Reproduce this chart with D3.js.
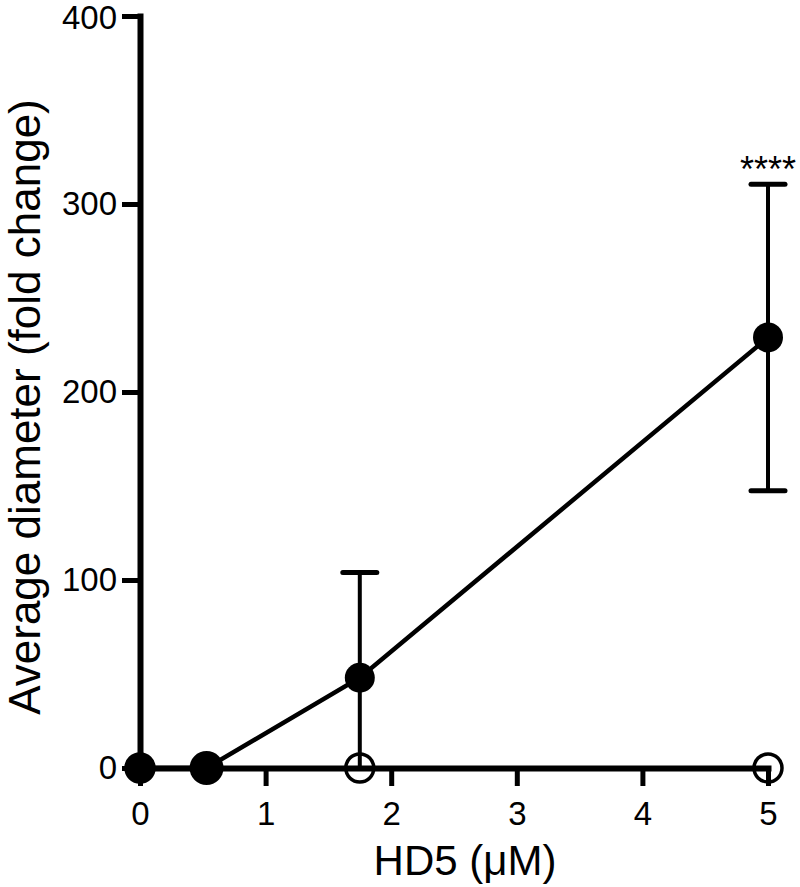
<!DOCTYPE html>
<html>
<head>
<meta charset="utf-8">
<script src="https://cdn.jsdelivr.net/npm/d3@7"></script>
<style>
  body { margin: 0; background: #fff; }
  text { font-family: "Liberation Sans", Arial, sans-serif; fill: #000; }
</style>
</head>
<body>
<svg id="drawing_region"></svg>
<script>
// HD5 concentrations (uM)
const doses = [0, 0.53, 1.75, 5];
// filled series: mean and SD
const filledMean = [0, 0, 48, 229];
const filledSD = [0, 0, 56, 81.5];
// open series
const openMean = [0, 0, 0, 0];
const xTicks = [0, 1, 2, 3, 4, 5];
const yTicks = [0, 100, 200, 300, 400];
const sigLabel = "****";

const config = {
    width: 800,
    height: 887,
    margin: {top: 16, right: 32, bottom: 119, left: 140}
};

const svg = d3.select("#drawing_region")
    .attr("width", config.width)
    .attr("height", config.height);

const inner_width = config.width - config.margin.left - config.margin.right;
const inner_height = config.height - config.margin.top - config.margin.bottom;

const chart = svg.append("g")
    .attr("transform", `translate(${config.margin.left}, ${config.margin.top})`);

const xscale = d3.scaleLinear().domain([0, 5]).range([0, inner_width]);
const yscale = d3.scaleLinear().domain([0, 400]).range([inner_height, 0]);

// axes
const xaxis = d3.axisBottom(xscale)
    .tickValues(xTicks)
    .tickFormat(d3.format("d"))
    .tickSize(18)
    .tickSizeOuter(0)
    .tickPadding(16);

const yaxis = d3.axisLeft(yscale)
    .tickValues(yTicks)
    .tickFormat(d3.format("d"))
    .tickSize(18)
    .tickSizeOuter(0)
    .tickPadding(5);

const xaxis_group = chart.append("g")
    .attr("transform", `translate(0, ${inner_height})`)
    .call(xaxis);

const yaxis_group = chart.append("g")
    .call(yaxis);

[xaxis_group, yaxis_group].forEach(g => {
    g.select(".domain").attr("stroke", "#000").attr("stroke-width", 6).attr("stroke-linecap", "square");
    g.selectAll(".tick line").attr("stroke", "#000").attr("stroke-width", 5);
    g.selectAll(".tick text")
        .style("font-family", '"Liberation Sans", Arial, sans-serif')
        .style("font-size", "33px")
        .attr("fill", "#000");
});
// keep the top label inside the picture
yaxis_group.selectAll(".tick text").filter(d => d === 400).attr("dy", "0.38em");

// open series (drawn underneath)
const openData = doses.map((d, i) => ({x: d, y: openMean[i]}));
const filledData = doses.map((d, i) => ({x: d, y: filledMean[i], sd: filledSD[i]}));

const line = d3.line()
    .x(d => xscale(d.x))
    .y(d => yscale(d.y));

chart.append("path")
    .datum(openData)
    .attr("d", line)
    .attr("fill", "none")
    .attr("stroke", "#000")
    .attr("stroke-width", 4);

// error bars (filled series)
const errs = chart.append("g");
filledData.filter(d => d.sd > 0).forEach(d => {
    const top = d.y + d.sd;
    const bot = Math.max(0, d.y - d.sd);
    const cx = xscale(d.x);
    errs.append("line")
        .attr("x1", cx).attr("x2", cx)
        .attr("y1", yscale(top)).attr("y2", yscale(bot))
        .attr("stroke", "#000").attr("stroke-width", 4);
    errs.append("line")
        .attr("x1", cx - 17).attr("x2", cx + 17)
        .attr("y1", yscale(top)).attr("y2", yscale(top))
        .attr("stroke", "#000").attr("stroke-width", 5).attr("stroke-linecap", "round");
    if (d.y - d.sd > 0) {
        errs.append("line")
            .attr("x1", cx - 17).attr("x2", cx + 17)
            .attr("y1", yscale(bot)).attr("y2", yscale(bot))
            .attr("stroke", "#000").attr("stroke-width", 5).attr("stroke-linecap", "round");
    }
});

chart.append("path")
    .datum(filledData)
    .attr("d", line)
    .attr("fill", "none")
    .attr("stroke", "#000")
    .attr("stroke-width", 4.5);

chart.selectAll("circle.open")
    .data(openData)
    .enter()
    .append("circle")
    .attr("class", "open")
    .attr("cx", d => xscale(d.x))
    .attr("cy", d => yscale(d.y))
    .attr("r", 14)
    .attr("fill", "none")
    .attr("stroke", "#000")
    .attr("stroke-width", 3.5);

chart.selectAll("circle.filled")
    .data(filledData)
    .enter()
    .append("circle")
    .attr("class", "filled")
    .attr("cx", d => xscale(d.x))
    .attr("cy", d => yscale(d.y))
    .attr("r", d => d.x > 0 && d.x < 1 ? 17 : 15)
    .attr("fill", "#000");

// significance mark over last point
const last = filledData[filledData.length - 1];
chart.append("text")
    .attr("x", xscale(last.x))
    .attr("y", yscale(last.y + last.sd) - 2)
    .attr("text-anchor", "middle")
    .style("font-size", "36px")
    .text(sigLabel);

// axis titles
svg.append("text")
    .attr("x", 465)
    .attr("y", 875)
    .attr("text-anchor", "middle")
    .style("font-size", "42px")
    .text("HD5 (μM)");

svg.append("text")
    .attr("transform", `translate(40, ${config.margin.top + inner_height / 2 + 15}) rotate(-90)`)
    .attr("text-anchor", "middle")
    .style("font-size", "44px")
    .text("Average diameter (fold change)");
</script>
</body>
</html>
